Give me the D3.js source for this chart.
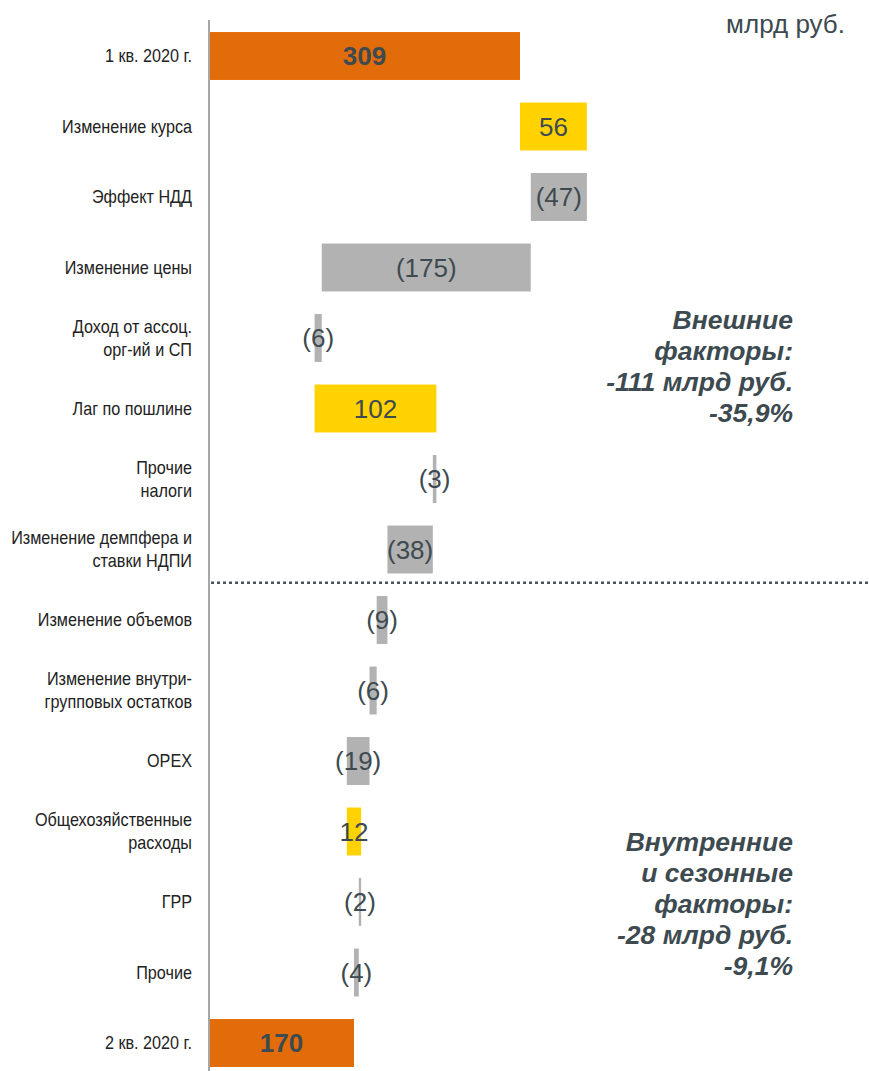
<!DOCTYPE html>
<html>
<head>
<meta charset="utf-8">
<script src="https://cdn.jsdelivr.net/npm/d3@7"></script>
<style>
  body { margin: 0; background: #fff; }
  .cat-label { font-family: "Liberation Sans Narrow", "Liberation Sans", Arial, sans-serif; font-size: 18px; fill: #222; }
  .val-label { font-family: "Liberation Sans", Arial, sans-serif; font-size: 26px; fill: #3d4a50; }
  .note { font-family: "Liberation Sans", Arial, sans-serif; font-size: 26.5px; font-weight: bold; font-style: italic; fill: #3d4a50; }
</style>
</head>
<body>
<svg id="chart" width="869" height="1071"></svg>
<script>
// categories (two-line labels split by "|")
const categories = [
  "1 кв. 2020 г.",
  "Изменение курса",
  "Эффект НДД",
  "Изменение цены",
  "Доход от ассоц.|орг-ий и СП",
  "Лаг по пошлине",
  "Прочие|налоги",
  "Изменение демпфера и|ставки НДПИ",
  "Изменение объемов",
  "Изменение внутри-|групповых остатков",
  "OPEX",
  "Общехозяйственные|расходы",
  "ГРР",
  "Прочие",
  "2 кв. 2020 г."
];
const values = [309, 56, -47, -175, -6, 102, -3, -38, -9, -6, -19, 12, -2, -4, 170];
const kinds = ["total", "delta", "delta", "delta", "delta", "delta", "delta", "delta",
               "delta", "delta", "delta", "delta", "delta", "delta", "total"];

const unitLabel = "млрд руб.";
const noteExternal = ["Внешние", "факторы:", "-111 млрд руб.", "-35,9%"];
const noteInternal = ["Внутренние", "и сезонные", "факторы:", "-28 млрд руб.", "-9,1%"];
const separatorAfter = 7; // index of last "external" factor

const COLOR_TOTAL = "#e36c0a";
const COLOR_UP = "#ffd200";
const COLOR_DOWN = "#b2b2b2";

// waterfall start/end
let running = 0;
const rows = categories.map((c, i) => {
    const v = values[i];
    let start, end;
    if (kinds[i] === "total") {
        start = 0; end = v; running = v;
    } else {
        start = running; end = running + v; running = end;
    }
    return {cat: c, value: v, kind: kinds[i], start: start, end: end};
});

const svg = d3.select("#chart");
const axisX = 209;

// axis starts above zero (chart is truncated on the left)
const x = d3.scaleLinear().domain([48.6, 309]).range([axisX, 520]);
const y = d3.scaleBand()
    .domain(categories)
    .range([20.75, 1078.25])
    .paddingInner(0.32)
    .paddingOuter(0.16);

svg.append("clipPath").attr("id", "plot-clip")
    .append("rect").attr("x", axisX).attr("y", 0).attr("width", 869 - axisX).attr("height", 1071);

// bars
const barG = svg.append("g").attr("clip-path", "url(#plot-clip)");
barG.selectAll("rect")
    .data(rows)
    .join("rect")
    .attr("x", d => x(Math.min(d.start, d.end)))
    .attr("y", d => y(d.cat))
    .attr("width", d => Math.abs(x(d.end) - x(d.start)))
    .attr("height", y.bandwidth())
    .attr("fill", d => d.kind === "total" ? COLOR_TOTAL : (d.value >= 0 ? COLOR_UP : COLOR_DOWN));

// value labels
svg.append("g").selectAll("text")
    .data(rows)
    .join("text")
    .attr("class", "val-label")
    .attr("text-anchor", "middle")
    .attr("x", d => (Math.max(x(Math.min(d.start, d.end)), axisX) + x(Math.max(d.start, d.end))) / 2)
    .attr("y", d => y(d.cat) + y.bandwidth() / 2)
    .attr("dy", "0.36em")
    .style("font-weight", d => d.kind === "total" ? "bold" : "normal")
    .text(d => d.value < 0 ? `(${-d.value})` : d.value);

// axis line
svg.append("line")
    .attr("x1", axisX).attr("x2", axisX)
    .attr("y1", 20).attr("y2", 1071)
    .attr("stroke", "#a6a6a6")
    .attr("stroke-width", 2);

// category labels (narrowed, like Arial Narrow)
const catG = svg.append("g");
categories.forEach(c => {
    const lines = c.split("|");
    const cy = y(c) + y.bandwidth() / 2;
    const t = catG.append("text")
        .attr("class", "cat-label")
        .attr("text-anchor", "end")
        .attr("transform", `translate(192, ${cy - (lines.length - 1) * 11.5}) scale(0.9, 1)`);
    lines.forEach((l, j) => {
        t.append("tspan").attr("x", 0).attr("dy", j === 0 ? "0.35em" : 23).text(l);
    });
});

// separator between external and internal factors
const sepY = (y(categories[separatorAfter]) + y(categories[separatorAfter + 1]) + y.bandwidth()) / 2 - 2;
svg.append("line")
    .attr("x1", axisX + 2).attr("x2", 869)
    .attr("y1", sepY).attr("y2", sepY)
    .attr("stroke", "#4d5357")
    .attr("stroke-width", 2.5)
    .attr("stroke-dasharray", "3,3");

// unit label
svg.append("text")
    .attr("class", "val-label")
    .attr("text-anchor", "end")
    .attr("x", 845).attr("y", 33)
    .text(unitLabel);

// notes
function note(lines, top) {
    const t = svg.append("text").attr("class", "note").attr("text-anchor", "end");
    lines.forEach((l, i) => {
        t.append("tspan").attr("x", 793).attr("y", top + i * 31).text(l);
    });
}
note(noteExternal, 329);
note(noteInternal, 851);
</script>
</body>
</html>
